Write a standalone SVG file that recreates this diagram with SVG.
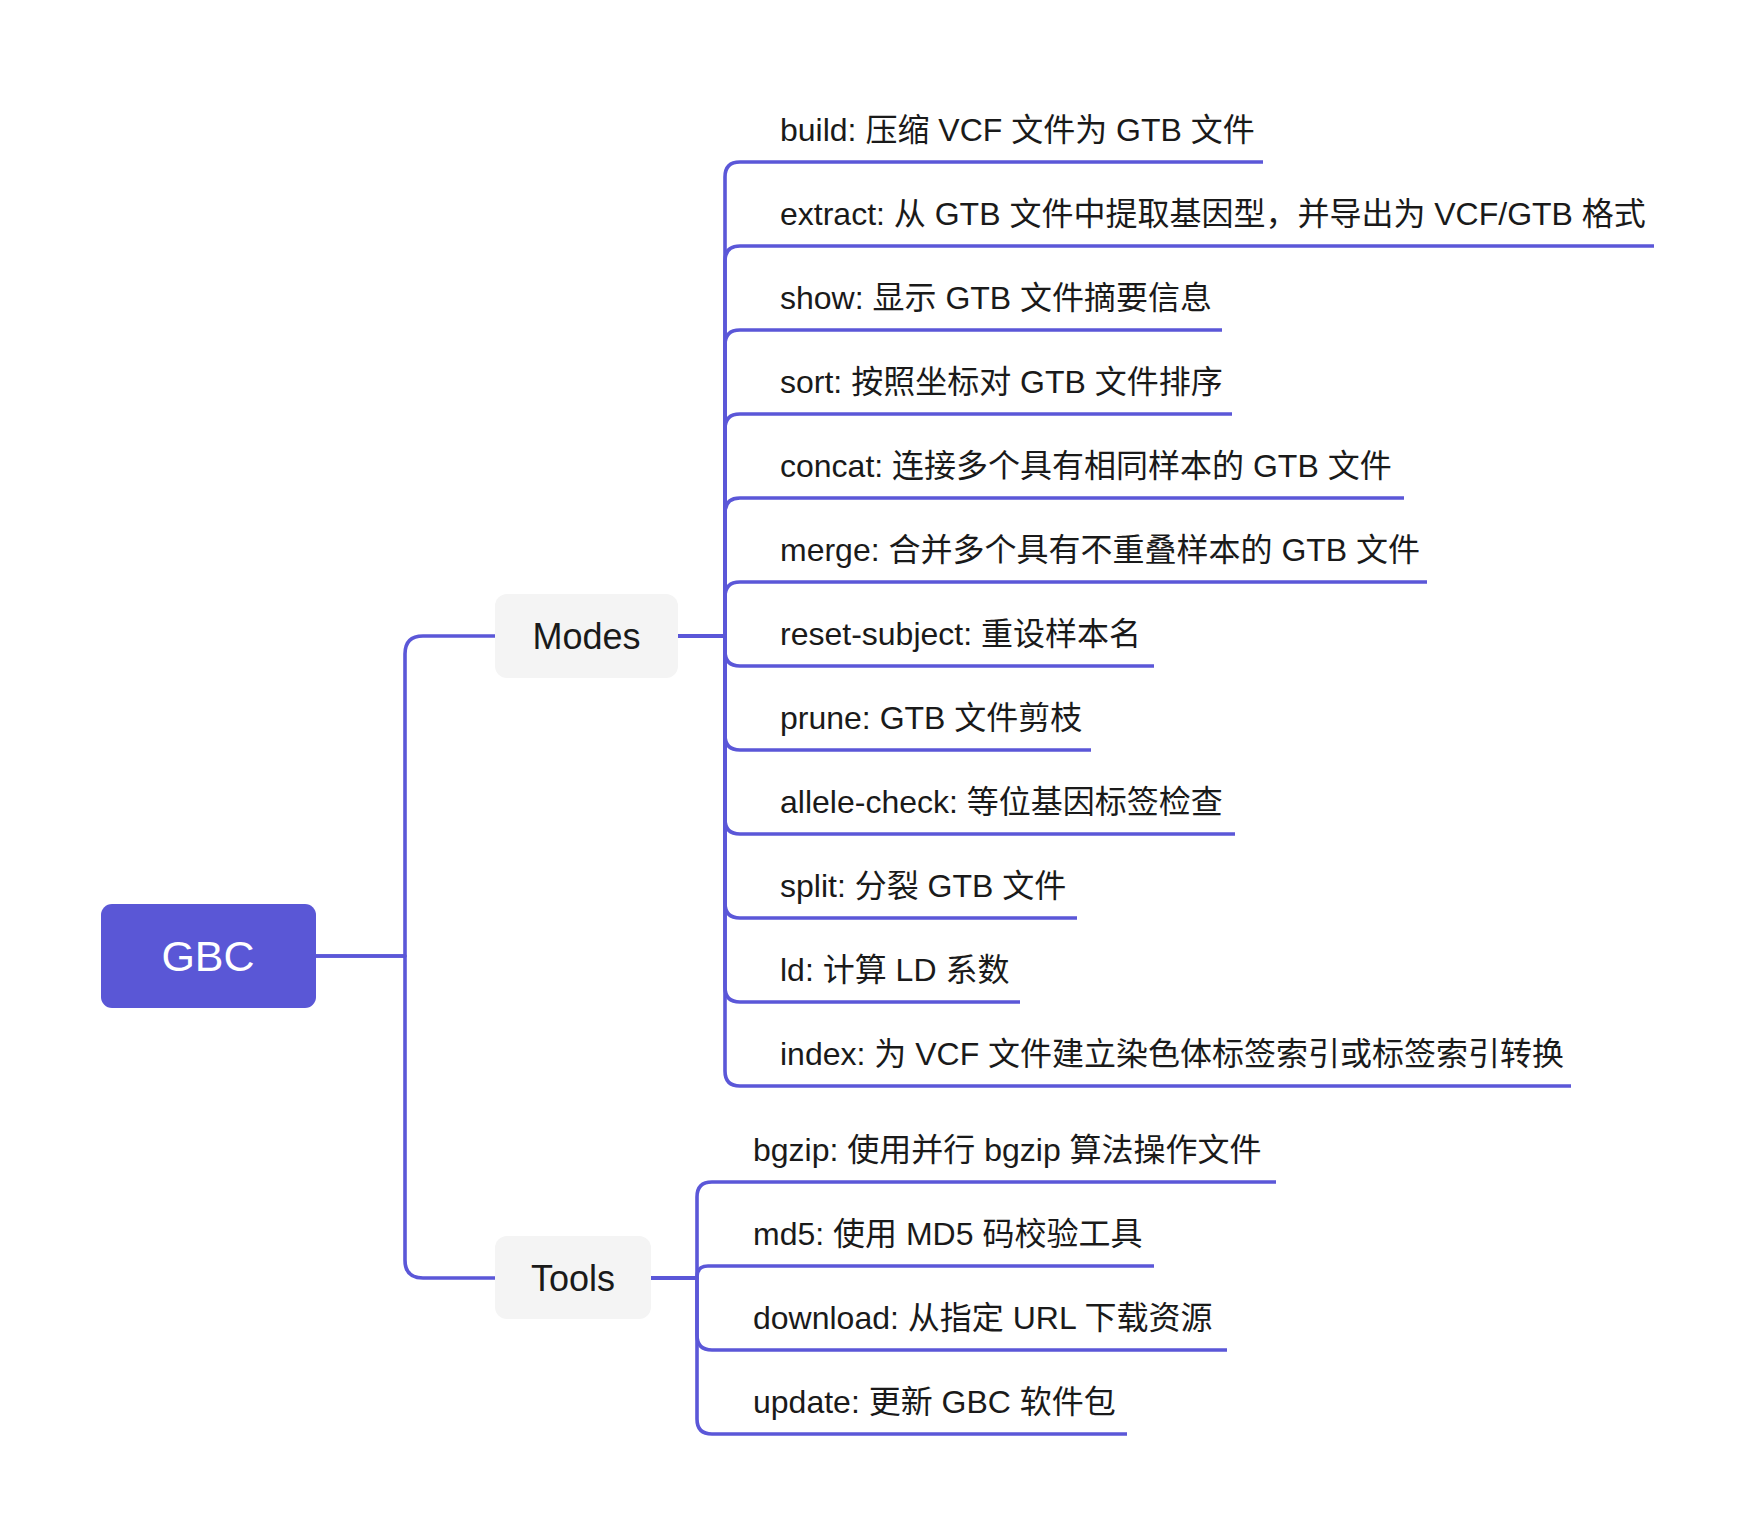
<svg xmlns="http://www.w3.org/2000/svg" width="1755" height="1536" viewBox="0 0 1755 1536">
<style>
.c{fill:none;stroke:#5b57d8;stroke-width:3.6;stroke-linecap:butt;stroke-linejoin:round}
.t{font-family:"Liberation Sans","Noto Sans CJK SC",sans-serif;font-size:32px;fill:#1a1a1a}
.m{font-family:"Liberation Sans","Noto Sans CJK SC",sans-serif;font-size:36px;fill:#1a1a1a;text-anchor:middle}
.sub{fill:#f4f4f4}
</style>
<rect width="1755" height="1536" fill="#ffffff"/>
<g id="connectors">
<path class="c" d="M316,956 H405 V654 Q405,636 423,636 H495"/>
<path class="c" d="M316,956 H405 V1260 Q405,1278 423,1278 H495"/>
<path class="c" d="M678,636 H725 V177 Q725,162 740,162 H1263"/>
<path class="c" d="M678,636 H725 V261 Q725,246 740,246 H1654"/>
<path class="c" d="M678,636 H725 V345 Q725,330 740,330 H1222"/>
<path class="c" d="M678,636 H725 V429 Q725,414 740,414 H1232"/>
<path class="c" d="M678,636 H725 V513 Q725,498 740,498 H1404"/>
<path class="c" d="M678,636 H725 V597 Q725,582 740,582 H1427"/>
<path class="c" d="M678,636 H725 V651 Q725,666 740,666 H1154"/>
<path class="c" d="M678,636 H725 V735 Q725,750 740,750 H1091"/>
<path class="c" d="M678,636 H725 V819 Q725,834 740,834 H1235"/>
<path class="c" d="M678,636 H725 V903 Q725,918 740,918 H1077"/>
<path class="c" d="M678,636 H725 V987 Q725,1002 740,1002 H1020"/>
<path class="c" d="M678,636 H725 V1071 Q725,1086 740,1086 H1571"/>
<path class="c" d="M651,1278 H697 V1197 Q697,1182 712,1182 H1276"/>
<path class="c" d="M651,1278 H697 V1277 Q697,1266 708,1266 H1154"/>
<path class="c" d="M651,1278 H697 V1335 Q697,1350 712,1350 H1227"/>
<path class="c" d="M651,1278 H697 V1419 Q697,1434 712,1434 H1127"/>
</g>
<g id="root">
<rect x="101" y="904" width="215" height="104" rx="11" fill="#5a57d6"/>
<text x="208" y="971" class="m" style="font-size:43px;fill:#ffffff">GBC</text>
</g>
<g id="modes">
<rect class="sub" x="495" y="594" width="183" height="84" rx="12"/>
<text x="586.5" y="649" class="m">Modes</text>
</g>
<g id="tools">
<rect class="sub" x="495" y="1236" width="156" height="83" rx="12"/>
<text x="573" y="1291" class="m">Tools</text>
</g>
<g id="m-build"><text class="t" x="780" y="141">build: 压缩 VCF 文件为 GTB 文件</text></g>
<g id="m-extract"><text class="t" x="780" y="225">extract: 从 GTB 文件中提取基因型，并导出为 VCF/GTB 格式</text></g>
<g id="m-show"><text class="t" x="780" y="309">show: 显示 GTB 文件摘要信息</text></g>
<g id="m-sort"><text class="t" x="780" y="393">sort: 按照坐标对 GTB 文件排序</text></g>
<g id="m-concat"><text class="t" x="780" y="477">concat: 连接多个具有相同样本的 GTB 文件</text></g>
<g id="m-merge"><text class="t" x="780" y="561">merge: 合并多个具有不重叠样本的 GTB 文件</text></g>
<g id="m-reset"><text class="t" x="780" y="645">reset-subject: 重设样本名</text></g>
<g id="m-prune"><text class="t" x="780" y="729">prune: GTB 文件剪枝</text></g>
<g id="m-allele"><text class="t" x="780" y="813">allele-check: 等位基因标签检查</text></g>
<g id="m-split"><text class="t" x="780" y="897">split: 分裂 GTB 文件</text></g>
<g id="m-ld"><text class="t" x="780" y="981">ld: 计算 LD 系数</text></g>
<g id="m-index"><text class="t" x="780" y="1065">index: 为 VCF 文件建立染色体标签索引或标签索引转换</text></g>
<g id="t-bgzip"><text class="t" x="753" y="1161">bgzip: 使用并行 bgzip 算法操作文件</text></g>
<g id="t-md5"><text class="t" x="753" y="1245">md5: 使用 MD5 码校验工具</text></g>
<g id="t-download"><text class="t" x="753" y="1329">download: 从指定 URL 下载资源</text></g>
<g id="t-update"><text class="t" x="753" y="1413">update: 更新 GBC 软件包</text></g>
</svg>
